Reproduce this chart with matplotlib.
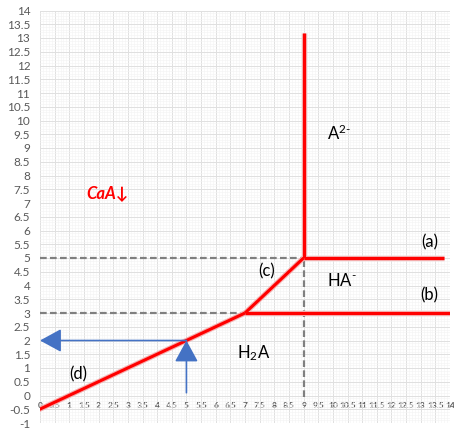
import numpy as np
import matplotlib.pyplot as plt
from matplotlib.ticker import MultipleLocator

plt.rcParams['font.family'] = ['Lato', 'DejaVu Sans']
plt.rcParams['mathtext.fontset'] = 'custom'
plt.rcParams['mathtext.rm'] = 'Lato'
plt.rcParams['mathtext.it'] = 'Lato:italic'

# red phase boundaries (x, y)
line_d_x = [-0.07, 7]; line_d_y = [-0.53, 3]
line_c_x = [7, 9]; line_c_y = [3, 5]
line_b_x = [7, 14.1]; line_b_y = [3, 3]
line_a_x = [9, 13.8]; line_a_y = [5, 5]
line_v_x = [9, 9]; line_v_y = [5, 13.2]

# gray dashed guides
guide_h5_x = [0, 9]; guide_h5_y = [5, 5]
guide_h3_x = [0, 7]; guide_h3_y = [3, 3]
guide_v9_x = [9, 9]; guide_v9_y = [-0.05, 5]

# blue read-off arrows
arrow_up = ((5, 0.1), (5, 2))
arrow_left = ((5, 2), (0, 2))

xticks = np.arange(0, 14.01, 0.5)
yticks = np.arange(-1, 14.01, 0.5)

fig = plt.figure(figsize=(4.54, 4.33), dpi=100)
ax = fig.add_axes([40/454, 10/433, 410/454, 412.5/433])
ax.set_xlim(0, 14)
ax.set_ylim(-1, 14)

ax.xaxis.set_major_locator(MultipleLocator(0.5))
ax.xaxis.set_minor_locator(MultipleLocator(0.1))
ax.yaxis.set_major_locator(MultipleLocator(0.5))
ax.yaxis.set_minor_locator(MultipleLocator(0.1))
ax.grid(True, which='major', color='#e0e0e0', lw=0.7)
ax.grid(True, which='minor', color='#f3f3f3', lw=0.4)
ax.set_axisbelow(True)

for s in ax.spines.values():
    s.set_visible(False)
ax.spines['bottom'].set_position(('data', 0))
ax.tick_params(which='both', length=0)
ax.tick_params(axis='y', labelsize=8.5, labelcolor='#595959', pad=7)
ax.tick_params(axis='x', labelsize=6, labelcolor='#595959', pad=5)
ax.set_xticks(xticks)
ax.set_xticklabels([f'{v:g}' for v in xticks], fontweight='bold')
ax.set_yticks(yticks)
ax.set_yticklabels([f'{v:g}' for v in yticks])

dash = dict(color='#7f7f7f', lw=1.6, ls=(0, (3, 1.5)))
ax.plot(guide_h5_x, guide_h5_y, **dash)
ax.plot(guide_h3_x, guide_h3_y, **dash)
ax.plot(guide_v9_x, guide_v9_y, **dash)

for xs, ys in [(line_d_x, line_d_y), (line_c_x, line_c_y), (line_b_x, line_b_y),
               (line_a_x, line_a_y), (line_v_x, line_v_y)]:
    ax.plot(xs, ys, color='#f4b0b0', lw=3.8, solid_capstyle='butt', zorder=3)
    ax.plot(xs, ys, color='#ff0000', lw=2.2, solid_capstyle='butt', zorder=4)

blue = '#4472c4'
for start, end in [arrow_up, arrow_left]:
    ax.annotate('', xy=end, xytext=start,
                arrowprops=dict(arrowstyle='-|>,head_length=0.55,head_width=0.3',
                                color=blue, lw=1.2, mutation_scale=24,
                                shrinkA=0, shrinkB=0), zorder=5)

fs = 12
ax.text(10.2, 9.55, r'A$^{2\text{-}}$', fontsize=fs, ha='center', va='center')
ax.text(2.3, 7.35, 'CaA↓', fontsize=12, color='#ff0000', fontweight='bold',
        style='italic', ha='center', va='center')
ax.text(13.3, 5.55, '(a)', fontsize=fs, ha='center', va='center')
ax.text(13.3, 3.65, '(b)', fontsize=fs, ha='center', va='center')
ax.text(7.75, 4.5, '(c)', fontsize=fs, ha='center', va='center')
ax.text(10.3, 4.2, r'HA$^{\text{-}}$', fontsize=fs, ha='center', va='center')
ax.text(7.3, 1.55, r'H$_2$A', fontsize=fs, ha='center', va='center')
ax.text(1.3, 0.75, '(d)', fontsize=fs, ha='center', va='center')

fig.savefig('out.png', dpi=100)
